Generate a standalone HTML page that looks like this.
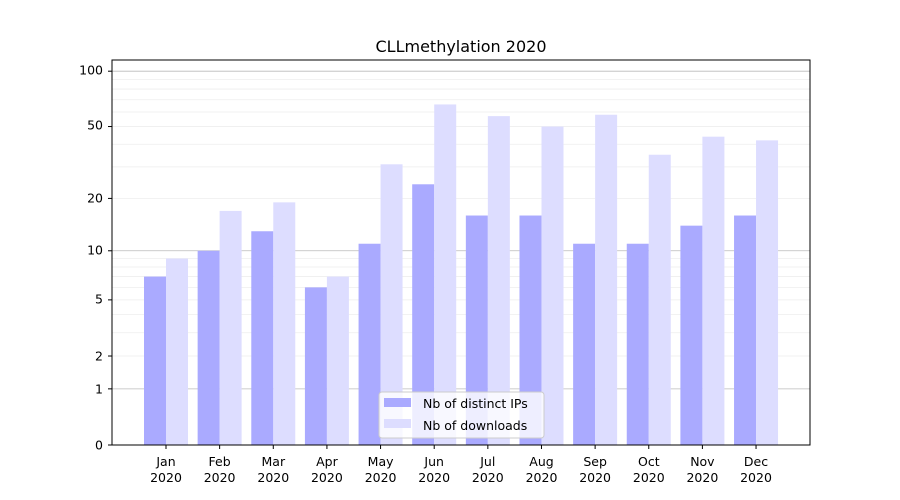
<!DOCTYPE html><html><head><style>body{margin:0;background:#fff}svg{display:block;font-family:"DejaVu Sans",sans-serif}</style></head><body>
<svg id="s" width="900" height="500" xmlns="http://www.w3.org/2000/svg">
<rect width="900" height="500" fill="#fff"/>
<g id="grid"></g><g id="bars"></g>
<rect x="112" y="60" width="698" height="385" fill="none" stroke="#000" stroke-width="1"/>
<text x="461" y="52" font-size="16" text-anchor="middle">CLLmethylation 2020</text>
<g font-size="12.5" text-anchor="end">
<text x="103" y="449.5">0</text><text x="103" y="393.5">1</text><text x="103" y="360.5">2</text><text x="103" y="303.5">5</text><text x="103" y="254.5">10</text><text x="103" y="202.5">20</text><text x="103" y="129.5">50</text><text x="103" y="74.5">100</text>
</g>
<g id="xl" font-size="13" text-anchor="middle"></g>
<rect x="379" y="392" width="165" height="46" rx="3" fill="#fff" fill-opacity="0.8" stroke="#ccc"/>
<rect x="384" y="398" width="27" height="9" fill="#aaaaff"/>
<rect x="384" y="419" width="27" height="9" fill="#ddddff"/>
<text x="423" y="408" font-size="12.5">Nb of distinct IPs</text>
<text x="423" y="430" font-size="12.5">Nb of downloads</text>
</svg>
<script>
const ns="http://www.w3.org/2000/svg";
function el(p,t,a){const e=document.createElementNS(ns,t);for(const k in a)e.setAttribute(k,a[k]);document.getElementById(p).appendChild(e);return e;}
const Y=v=>445-186.5*Math.log10(1+v);
[2,3,4,5,6,7,8,9,20,30,40,50,60,70,80,90].forEach(v=>el("grid","line",{x1:112,x2:810,y1:Y(v),y2:Y(v),stroke:"#eee","stroke-width":0.8}));
[1,10,100].forEach(v=>el("grid","line",{x1:112,x2:810,y1:Y(v),y2:Y(v),stroke:"#bbb","stroke-width":0.8}));
[0,1,2,5,10,20,50,100].forEach(v=>el("grid","line",{x1:108,x2:112,y1:Y(v),y2:Y(v),stroke:"#000"}));
const ips=[7,10,13,6,11,24,16,16,11,11,14,16],dl=[9,17,19,7,31,66,57,50,58,35,44,42];
for(let i=0;i<12;i++){const c=166+i*53.64;
el("bars","rect",{x:c-22,y:Y(ips[i]),width:22,height:445-Y(ips[i]),fill:"#aaaaff"});
el("bars","rect",{x:c,y:Y(dl[i]),width:22,height:445-Y(dl[i]),fill:"#ddddff"});
el("xl","line",{x1:c,x2:c,y1:445,y2:449,stroke:"#000"});
}
</script>
<div style="position:absolute;left:0;top:0;width:900px;height:500px;pointer-events:none;font-family:'DejaVu Sans',sans-serif;font-size:12.5px">
<div style="position:absolute;top:454px;left:0;width:900px;line-height:16px">
<span style="position:absolute;left:136px;width:60px;text-align:center">Jan<br>2020</span>
<span style="position:absolute;left:189.6px;width:60px;text-align:center">Feb<br>2020</span>
<span style="position:absolute;left:243.3px;width:60px;text-align:center">Mar<br>2020</span>
<span style="position:absolute;left:296.9px;width:60px;text-align:center">Apr<br>2020</span>
<span style="position:absolute;left:350.6px;width:60px;text-align:center">May<br>2020</span>
<span style="position:absolute;left:404.2px;width:60px;text-align:center">Jun<br>2020</span>
<span style="position:absolute;left:457.8px;width:60px;text-align:center">Jul<br>2020</span>
<span style="position:absolute;left:511.5px;width:60px;text-align:center">Aug<br>2020</span>
<span style="position:absolute;left:565.1px;width:60px;text-align:center">Sep<br>2020</span>
<span style="position:absolute;left:618.8px;width:60px;text-align:center">Oct<br>2020</span>
<span style="position:absolute;left:672.4px;width:60px;text-align:center">Nov<br>2020</span>
<span style="position:absolute;left:726px;width:60px;text-align:center">Dec<br>2020</span>
</div></div>
</body></html>
